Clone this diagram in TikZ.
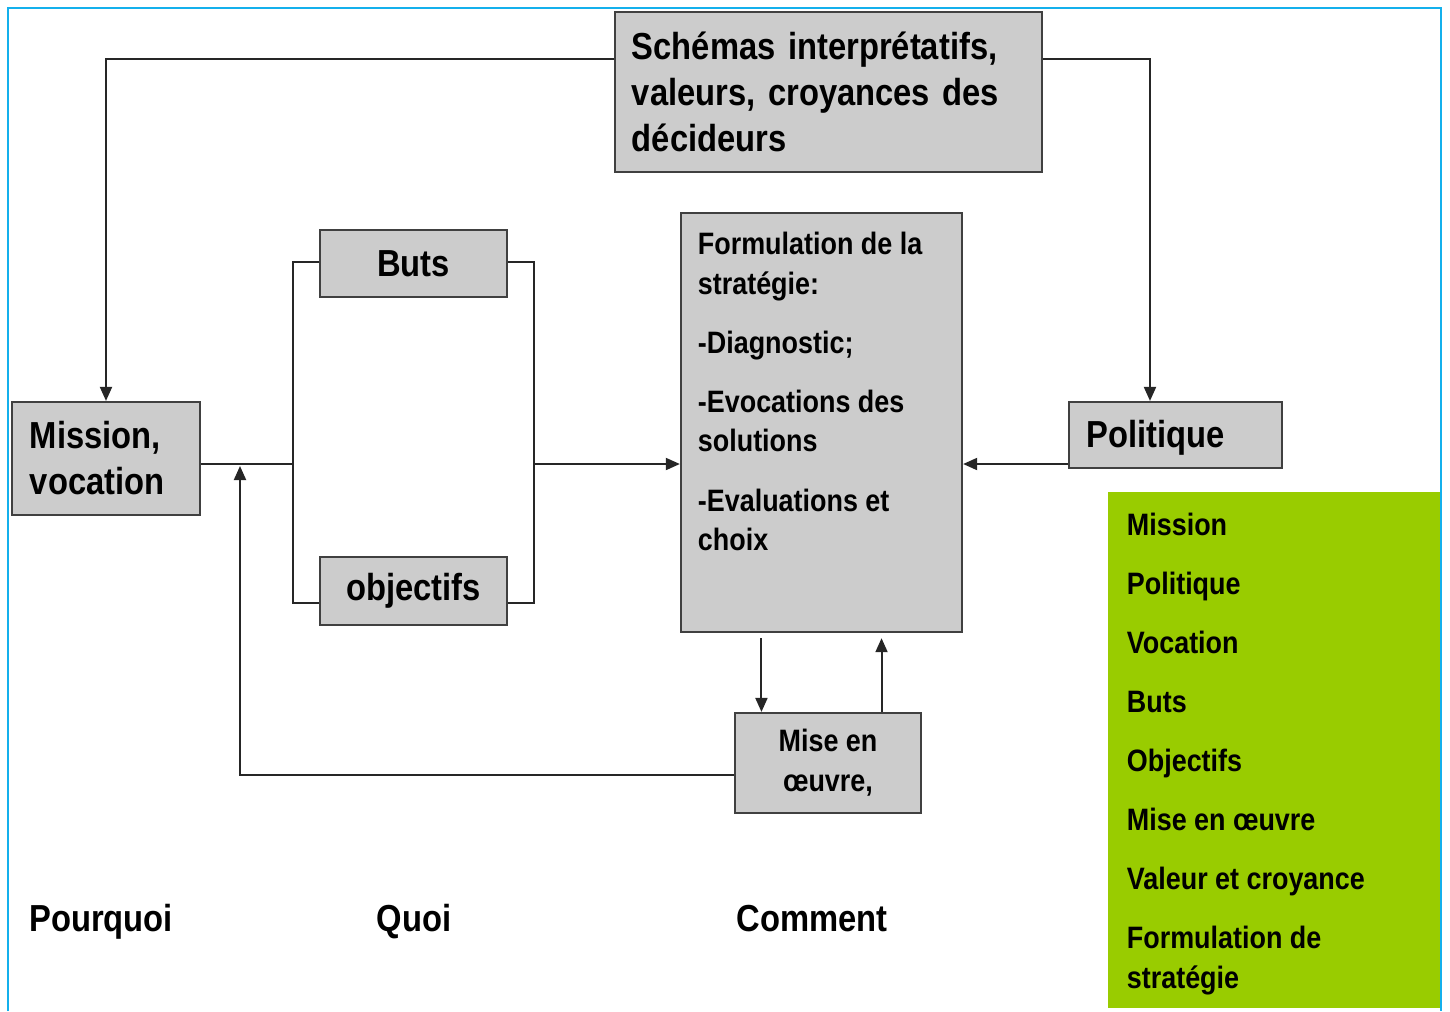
\documentclass[tikz,border=0pt]{standalone}
\usepackage{fontspec}
\setmainfont{Liberation Sans}[FakeStretch=0.87]
\usetikzlibrary{arrows.meta}

\definecolor{boxgray}{RGB}{204,204,204}
\definecolor{legendgreen}{RGB}{153,204,0}
\definecolor{frameblue}{RGB}{20,176,236}

\newcommand{\bigfont}{\bfseries\fontsize{10.7}{13.1}\selectfont}
\newcommand{\smallfont}{\bfseries\fontsize{8.8}{11.3}\selectfont}

\begin{document}
\begin{tikzpicture}[x=0.01cm,y=-0.01cm,
    >={Triangle[length=0.14cm,width=0.12cm]},
    conn/.style={line width=0.55pt,draw=black!85},
    box/.style={draw=black!75,fill=boxgray,line width=0.6pt,inner sep=0pt,font=\bigfont},
    small box/.style={box,font=\smallfont},
    tag/.style={font=\bigfont,inner sep=0pt,anchor=base}]

\useasboundingbox (0,0) rectangle (1450,1011);

% legend on the right
\node[fill=legendgreen,inner sep=0pt,minimum width=3.33cm,minimum height=5.16cm,
      font=\smallfont] (legend) at (1274.5,750) {\parbox[c][4.74cm][t]{2.95cm}{\raggedright
  Mission\\[5.5pt] Politique\\[5.5pt] Vocation\\[5.5pt] Buts\\[5.5pt] Objectifs\\[5.5pt]
  Mise en œuvre\\[5.5pt] Valeur et croyance\\[5.5pt] Formulation de\\ stratégie}};

\node[box,minimum width=4.27cm,minimum height=1.60cm,text width=3.93cm,align=left]
  (schemas) at (828.5,92) {Schémas interprétatifs,\\ valeurs, croyances des\\ décideurs};
\node[box,minimum width=1.88cm,minimum height=1.13cm,text width=1.52cm,align=left]
  (mission) at (106,458.5) {Mission,\\ vocation};
\node[box,minimum width=1.87cm,minimum height=0.67cm] (buts) at (413.5,263.5) {Buts};
\node[box,minimum width=1.87cm,minimum height=0.68cm] (objectifs) at (413.5,591) {objectifs};
\node[small box,minimum width=2.81cm,minimum height=4.19cm] (formulation) at (821.5,422.5)
  {\parbox[c][3.81cm][t]{2.47cm}{\raggedright
  Formulation de la\\ stratégie:\\[5.5pt] -Diagnostic;\\[5.5pt] -Evocations des\\ solutions\\[5.5pt]
  -Evaluations et\\ choix}};
\node[box,minimum width=2.13cm,minimum height=0.66cm,text width=1.77cm,align=left,
  text depth=0.02cm] (politique) at (1175.5,435) {Politique};
\node[small box,minimum width=1.86cm,minimum height=1.00cm,align=center]
  (mise) at (828,763) {Mise en\\ œuvre,};

\node[tag] (pourquoi) at (101,931) {Pourquoi};
\node[tag] (quoi) at (414,931) {Quoi};
\node[tag] (comment) at (812,931) {Comment};

\coordinate (jl) at (293,464);
\coordinate (jr) at (534,464);
\coordinate (back) at (240,466);

\draw[conn,->] (schemas.west |- 0,59) -| (mission.north);
\draw[conn,->] (schemas.east |- 0,59) -| (politique.north -| 1150,0);
\draw[conn] (mission.east |- jl) -- (jl);
\draw[conn] ([yshift=0.015cm]buts.west) -| (jl) |- ([yshift=-0.12cm]objectifs.west);
\draw[conn] ([yshift=0.015cm]buts.east) -| (jr) |- ([yshift=-0.12cm]objectifs.east);
\draw[conn,->] (jr) -- (formulation.west |- jr);
\draw[conn,->] (politique.west |- jr) -- (formulation.east |- jr);
\draw[conn,->] ([xshift=-0.6cm,yshift=-0.05cm]formulation.south) -- ([xshift=-0.6cm]formulation.south |- mise.north);
\draw[conn,->] ([xshift=0.6cm]formulation.south |- mise.north) -- ([xshift=0.6cm,yshift=-0.05cm]formulation.south);
\draw[conn,->] ([yshift=-0.12cm]mise.west) -| (back);

% frame
\draw[frameblue,line width=0.025cm] (8,1011) -- (8,8) -- (1441,8) -- (1441,1011);

\end{tikzpicture}
\end{document}
